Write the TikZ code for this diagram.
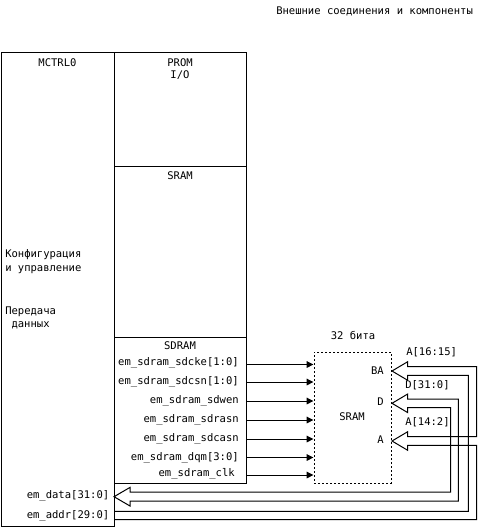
\documentclass[tikz,border=0pt]{standalone}
\usepackage{fontspec}
\setmonofont{DejaVu Sans Mono}
\usetikzlibrary{fit,arrows.meta}
\begin{document}
\begin{tikzpicture}[x=0.75pt,y=-0.75pt,
  every node/.style={font=\ttfamily\fontsize{7.9}{9.5}\selectfont, inner sep=0pt},
  box/.style={draw, line width=0.75pt, inner sep=0pt},
  dbox/.style={draw, line width=0.75pt, inner sep=0pt, dash pattern=on 1.5pt off 1.5pt},
  sig/.style={-{Triangle[length=5.2pt,width=5pt]}, line width=0.75pt},
  bus/.style={line width=0.75pt, line join=miter}]
\useasboundingbox (0,0) rectangle (480,527);

% boxes
\node[box, fit={(1,53)(114,526)}] (mctrl) {};
\node[box, fit={(114,53)(246,167)}] (prom) {};
\node[box, fit={(114,167)(246,337)}] (sramc) {};
\node[box, fit={(114,337)(246,483)}] (sdram) {};
\node[dbox, fit={(314,352)(391,483)}] (sram) {};

% titles
\node[anchor=mid west] (ext) at (276,12) {Внешние соединения и компоненты};
\node[anchor=mid] (tmctrl) at (57.5,64) {MCTRL0};
\node[anchor=mid] (tprom) at (180,64) {PROM};
\node[anchor=mid] (tio) at (180,76) {I/O};
\node[anchor=mid] (tsramc) at (180,177) {SRAM};
\node[anchor=mid] (tsdram) at (180,347) {SDRAM};
\node[anchor=mid west] (cfg1) at (5,255) {Конфигурация};
\node[anchor=mid west] (cfg2) at (5,269) {и управление};
\node[anchor=mid west] (dat1) at (5,312) {Передача};
\node[anchor=mid west] (dat2) at (11.3,325) {данных};

% SDRAM signals
\node[anchor=mid east] (s1) at (239,362.5) {em\_sdram\_sdcke[1:0]};
\node[anchor=mid east] (s2) at (239,382) {em\_sdram\_sdcsn[1:0]};
\node[anchor=mid east] (s3) at (239,401) {em\_sdram\_sdwen};
\node[anchor=mid east] (s4) at (239,420) {em\_sdram\_sdrasn};
\node[anchor=mid east] (s5) at (239,439) {em\_sdram\_sdcasn};
\node[anchor=mid east] (s6) at (239,457.5) {em\_sdram\_dqm[3:0]};
\node[anchor=mid east] (s7) at (235,473.5) {em\_sdram\_clk};

\node[anchor=mid east] (edata) at (109.5,496) {em\_data[31:0]};
\node[anchor=mid east] (eaddr) at (109.5,515.5) {em\_addr[29:0]};

% SRAM chip labels
\node[anchor=mid] (t32) at (353,336.5) {32 бита};
\node[anchor=mid] (tsram) at (352,417.5) {SRAM};
\node[anchor=mid east] (pba) at (384,371.5) {BA};
\node[anchor=mid east] (pd) at (384,403) {D};
\node[anchor=mid east] (pa) at (384,440.5) {A};
\node[anchor=mid west] (la1) at (406,352.5) {A[16:15]};
\node[anchor=mid west] (ld) at (405,386) {D[31:0]};
\node[anchor=mid west] (la2) at (405,423) {A[14:2]};

% signal lines
\foreach \y in {364.5,382,401,420,439,457.5,475}{
  \coordinate (from) at (246,\y);
  \coordinate (to) at (314,\y);
  \draw[sig] (sdram.east |- from) -- (sram.west |- to);
}

% data bus (double-headed hollow arrow)
\coordinate (dtipL) at (114,496.7);
\coordinate (dtipR) at (392,403.3);
\draw[bus] (dtipL) -- (130,487.4) -- (130,492) -- (450.7,492) -- (450.7,407.6)
  -- (407.7,407.6) -- (407.7,412.6) -- (dtipR) -- (407.7,394) -- (407.7,399)
  -- (458.3,399) -- (458.3,501) -- (130,501) -- (130,506) -- cycle;

% address bus (forks to BA and A)
\coordinate (atipBA) at (392,371);
\coordinate (atipA) at (392,441);
\draw[bus] (mctrl.east |- 0,519.5) -- (476.7,519.5) -- (476.7,445.3) -- (407.7,445.3)
  -- (407.7,450.3) -- (atipA) -- (407.7,431.7) -- (407.7,436.7) -- (476.7,436.7)
  -- (476.7,366.7) -- (407.7,366.7) -- (407.7,361.7) -- (atipBA) -- (407.7,380.3)
  -- (407.7,375.3) -- (468.3,375.3) -- (468.3,511.3) -- (mctrl.east |- 0,511.3);
\end{tikzpicture}
\end{document}
